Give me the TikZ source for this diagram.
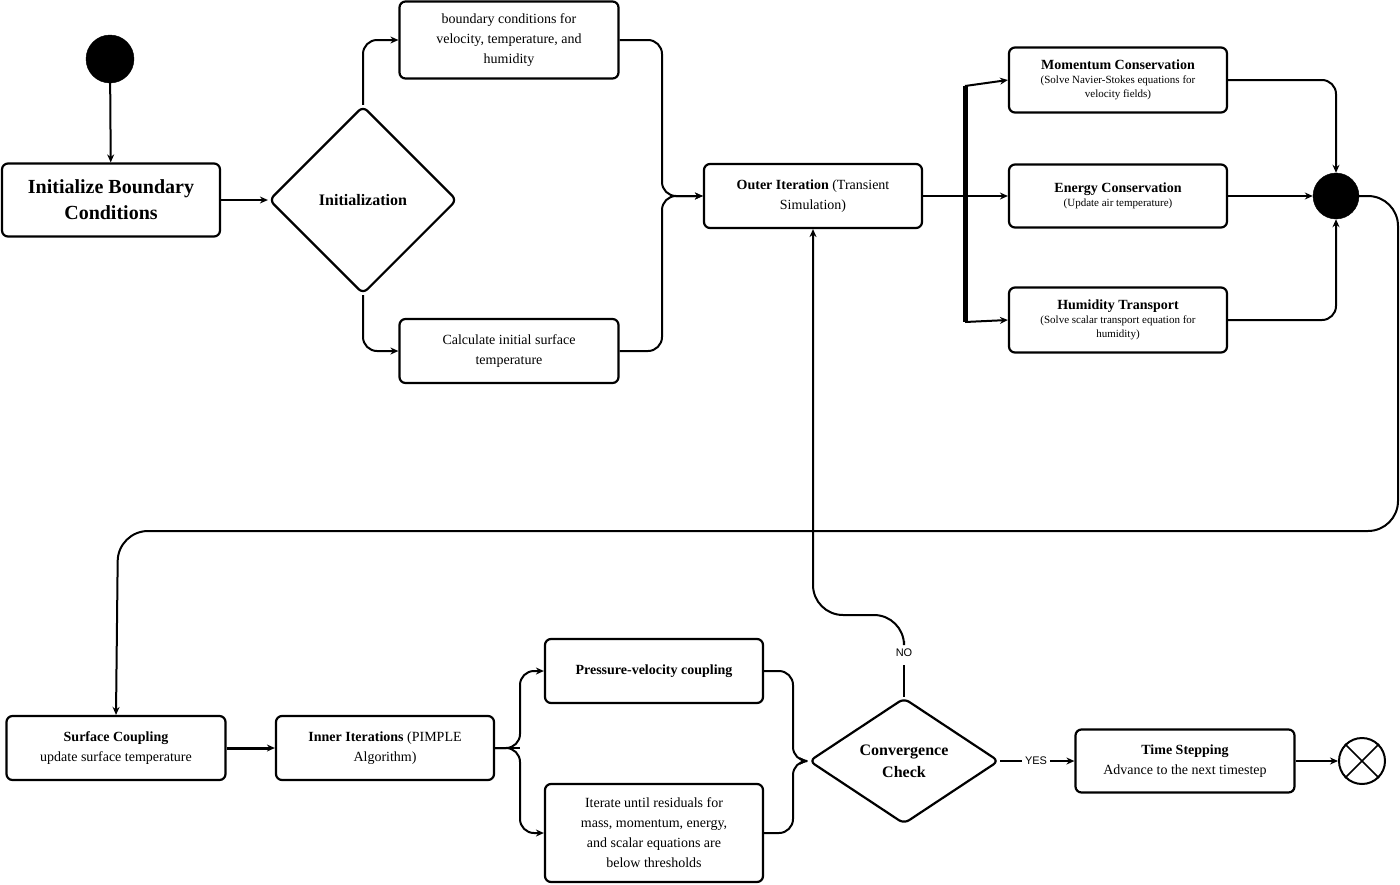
\documentclass[tikz,border=0pt]{standalone}
\usepackage{fontspec}
\setmainfont{Liberation Serif}
\setsansfont{Liberation Sans}
\usetikzlibrary{shapes.geometric,arrows.meta}
\begin{document}
\begin{tikzpicture}[x=1pt,y=-1pt,
  box/.style={draw,line width=2.2pt,rounded corners=6pt,align=center,inner sep=2pt,font=\fontsize{14}{20}\selectfont},
  dia/.style={draw,line width=2.2pt,diamond,rounded corners=6pt,align=center,inner sep=0pt},
  dot/.style={circle,fill=black,draw,inner sep=0pt,minimum size=46pt},
  ar/.style={line width=2pt,-{Stealth[length=8pt,width=7pt]},rounded corners=14pt},
  ln/.style={line width=2pt,rounded corners=14pt}]
\useasboundingbox (0,0) rectangle (1400,884);
\node[dot,minimum size=48pt] (st) at (110,59) {};
\node[box,minimum width=218pt,minimum height=73pt,font=\fontsize{20}{26}\selectfont\bfseries] (ib) at (111,200) {Initialize Boundary\\Conditions};
\node[dia,minimum width=188pt,minimum height=188pt,font=\fontsize{16}{20}\selectfont\bfseries] (ini) at (363,200) {Initialization};
\node[box,minimum width=219pt,minimum height=77pt] (bc) at (509,40) {boundary conditions for\\velocity, temperature, and\\humidity};
\node[box,minimum width=219pt,minimum height=64pt] (ca) at (509,351) {Calculate initial surface\\temperature};
\node[box,minimum width=218pt,minimum height=64pt] (oi) at (813,196) {\textbf{Outer Iteration} (Transient\\Simulation)};
\coordinate (fk) at (965,196);
\node[box,minimum width=218pt,minimum height=65pt,font=\fontsize{11}{14}\selectfont] (mo) at (1118,80) {{\fontsize{14}{18}\selectfont\bfseries Momentum Conservation}\\(Solve Navier-Stokes equations for\\velocity fields)};
\node[box,minimum width=218pt,minimum height=63pt,font=\fontsize{11}{14}\selectfont] (en) at (1118,196) {{\fontsize{14}{18}\selectfont\bfseries Energy Conservation}\\(Update air temperature)};
\node[box,minimum width=218pt,minimum height=65pt,font=\fontsize{11}{14}\selectfont] (hu) at (1118,320) {{\fontsize{14}{18}\selectfont\bfseries Humidity Transport}\\(Solve scalar transport equation for\\humidity)};
\node[dot] (jn) at (1336,196) {};
\node[box,minimum width=219pt,minimum height=64pt] (sc) at (116,748) {\textbf{Surface Coupling}\\update surface temperature};
\node[box,minimum width=218pt,minimum height=64pt] (in) at (385,748) {\textbf{Inner Iterations} (PIMPLE\\Algorithm)};
\node[box,minimum width=218pt,minimum height=64pt] (pv) at (654,671) {\textbf{Pressure-velocity coupling}};
\node[box,minimum width=218pt,minimum height=98pt] (it) at (654,833) {Iterate until residuals for\\mass, momentum, energy,\\and scalar equations are\\below thresholds};
\node[dia,minimum width=190pt,minimum height=126pt,aspect=1.5,font=\fontsize{16}{22}\selectfont\bfseries] (cv) at (904,761) {Convergence\\Check};
\node[box,minimum width=219pt,minimum height=63pt] (ts) at (1185,761) {\textbf{Time Stepping}\\Advance to the next timestep};
\node[circle,draw,line width=2pt,minimum size=46pt,inner sep=0pt] (end) at (1362,761) {};
\draw[line width=1.6pt] (end.45)--(end.225) (end.135)--(end.315);
\draw[ar] (st)--(ib);
\draw[ar] (ib)--(ini);
\draw[ar] (ini.north)--(363,40)--(bc.west);
\draw[ar] (ini.south)--(363,351)--(ca.west);
\draw[ar] (bc.east)--(662,40)--(662,196)--(oi.west);
\draw[ar] (ca.east)--(662,351)--(662,196)--(oi.west);
\draw[line width=2pt] (oi.east)--(fk);
\draw[line width=5pt] (965,86)--(965,322);
\draw[ar] (965,86)--(mo.west);
\draw[ar] (fk)--(en.west);
\draw[ar] (965,322)--(hu.west);
\draw[ar] (mo.east)--(1336,80)--(jn.north);
\draw[ar] (hu.east)--(1336,320)--(jn.south);
\draw[ar,line width=2.8pt] (en.east)--(jn.west);
\draw[ar,rounded corners=30pt] (jn.east)--(1398,196)--(1398,531)--(118,531)--(sc.north);
\draw[ar,line width=3pt] (sc.east)--(in.west);
\draw[ln] (in.east)--(520,748);
\draw[ar] (in.east)--(520,748)--(520,671)--(pv.west);
\draw[ar] (in.east)--(520,748)--(520,833)--(it.west);
\draw[ar] (pv.east)--(793,671)--(793,761)--(cv.west);
\draw[ar] (it.east)--(793,833)--(793,761)--(cv.west);
\draw[ln] (cv.north)--(904,665);
\draw[ar,rounded corners=30pt] (904,641)--(904,615)--(813,615)--(oi.south);
\node[font=\sffamily\fontsize{11}{12}\selectfont] at (904,653) {NO};
\draw[ln] (cv.east)--(1022,761);
\node[font=\sffamily\fontsize{11}{12}\selectfont] at (1036,761) {YES};
\draw[ar] (1050,761)--(ts.west);
\draw[ar] (ts.east)--(end.west);
\end{tikzpicture}
\end{document}
